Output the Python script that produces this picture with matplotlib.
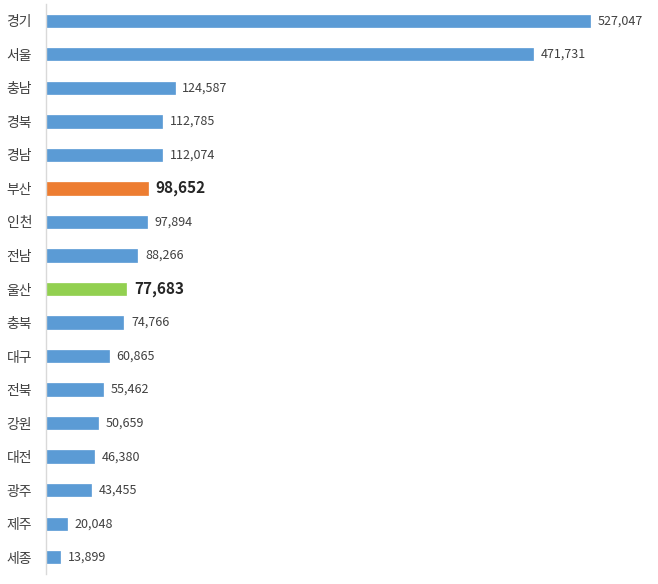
import matplotlib.pyplot as plt
import numpy as np

plt.rcParams['font.family'] = ['Noto Sans CJK KR', 'DejaVu Sans']

regions = ['경기', '서울', '충남', '경북', '경남', '부산', '인천', '전남', '울산',
           '충북', '대구', '전북', '강원', '대전', '광주', '제주', '세종']
values = [527047, 471731, 124587, 112785, 112074, 98652, 97894, 88266, 77683,
          74766, 60865, 55462, 50659, 46380, 43455, 20048, 13899]
highlight = {'부산': '#ED7D31', '울산': '#92D050'}

blue = '#5B9BD5'
colors = [highlight.get(r, blue) for r in regions]

fig = plt.figure(figsize=(6.58, 5.84), dpi=100)
ax = fig.add_axes([46 / 658, 10 / 584, (650 - 46) / 658, 570 / 584])

y = np.arange(len(regions))
ax.barh(y, values, height=0.37, color=colors, edgecolor=colors, linewidth=0.5)
ax.set_ylim(len(regions) - 0.5, -0.5)
ax.set_xlim(0, 585000)

for yi, r, v in zip(y, regions, values):
    if r in highlight:
        ax.text(v + 7500, yi, f'{v:,}', va='center', ha='left',
                fontsize=11, fontweight='bold', color='#262626')
    else:
        ax.text(v + 7500, yi, f'{v:,}', va='center', ha='left',
                fontsize=9, color='#404040')

ax.set_yticks(y)
ax.set_yticklabels(regions, fontsize=10, color='#404040')
ax.tick_params(axis='y', length=0, pad=10)
ax.set_xticks([])
for s in ['top', 'right', 'bottom']:
    ax.spines[s].set_visible(False)
ax.spines['left'].set_color('#D9D9D9')
ax.spines['left'].set_linewidth(1)

plt.savefig('out.png', dpi=100)
